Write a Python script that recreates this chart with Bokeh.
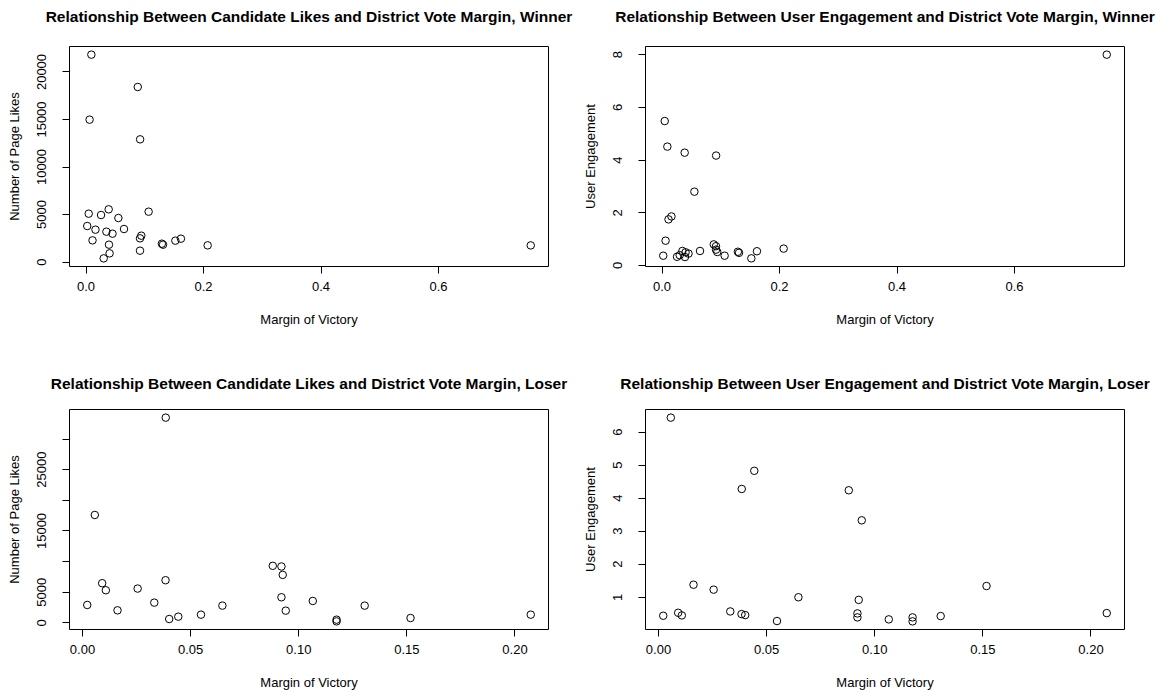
from bokeh.plotting import figure
from bokeh.models import Range1d, FixedTicker, LinearAxis, Title
from bokeh.layouts import column, row
from bokeh.embed import file_html
from bokeh.resources import INLINE

# ---------------- data ----------------
winner_margin = [0.002, 0.0045, 0.006, 0.009, 0.011, 0.016, 0.0255, 0.030, 0.0346, 0.0385,
                 0.039, 0.040, 0.045, 0.055, 0.0646, 0.088, 0.0918, 0.0918, 0.092, 0.094,
                 0.1065, 0.129, 0.131, 0.152, 0.1615, 0.207, 0.757]
winner_likes = [3789, 5088, 14982, 21825, 2281, 3404, 4947, 386, 3193, 5544,
                1825, 912, 2982, 4632, 3474, 18421, 2491, 1193, 12912, 2772,
                5298, 1930, 1825, 2246, 2456, 1754, 1750]
winner_engagement = [0.37, 5.48, 0.94, 4.51, 1.75, 1.86, 0.33, 0.39, 0.55, 4.28,
                     0.32, 0.50, 0.45, 2.80, 0.55, 0.80, 0.73, 0.60, 4.17, 0.51,
                     0.37, 0.52, 0.48, 0.27, 0.54, 0.64, 8.00]

loser_margin = [0.0022, 0.0057, 0.0091, 0.0108, 0.0162, 0.0255, 0.0332, 0.0384, 0.0385, 0.0401,
                0.0443, 0.0548, 0.0647, 0.0880, 0.0920, 0.0920, 0.0926, 0.0940, 0.1065, 0.1175,
                0.1175, 0.1305, 0.1517, 0.2073]
loser_likes = [2926, 17609, 6474, 5328, 2052, 5600, 3308, 6965, 33493, 633,
               1015, 1343, 2817, 9312, 9203, 4181, 7838, 1998, 3581, 524,
               251, 2817, 797, 1343]
loser_engagement = [0.44, 6.44, 0.53, 0.45, 1.38, 1.23, 0.57, 0.49, 4.28, 0.46,
                    4.83, 0.28, 1.00, 4.24, 0.51, 0.39, 0.92, 3.33, 0.33, 0.39,
                    0.27, 0.43, 1.34, 0.52]

x_ticks_top = [0.0, 0.2, 0.4, 0.6]
x_tick_labels_top = ["0.0", "0.2", "0.4", "0.6"]
x_ticks_bottom = [0.0, 0.05, 0.1, 0.15, 0.2]
x_tick_labels_bottom = ["0.00", "0.05", "0.10", "0.15", "0.20"]
y_ticks_likes_w = [0, 5000, 10000, 15000, 20000]
y_tick_labels_likes_w = ["0", "5000", "10000", "15000", "20000"]
y_ticks_eng_w = [0, 2, 4, 6, 8]
y_tick_labels_eng_w = ["0", "2", "4", "6", "8"]
y_ticks_likes_l = [0, 5000, 10000, 15000, 20000, 25000, 30000]
y_tick_labels_likes_l = ["0", "5000", "", "15000", "", "25000", ""]
y_ticks_eng_l = [1, 2, 3, 4, 5, 6]
y_tick_labels_eng_l = ["1", "2", "3", "4", "5", "6"]

titles = [
    "Relationship Between Candidate Likes and District Vote Margin, Winner",
    "Relationship Between User Engagement and District Vote Margin, Winner",
    "Relationship Between Candidate Likes and District Vote Margin, Loser",
    "Relationship Between User Engagement and District Vote Margin, Loser",
]
x_label = "Margin of Victory"
y_labels = ["Number of Page Likes", "User Engagement", "Number of Page Likes", "User Engagement"]

FONT = "Liberation Sans"
TICK_SIZE = "13px"
LABEL_SIZE = "13px"
TITLE_SIZE = "15.5px"


def padded(vals):
    lo, hi = min(vals), max(vals)
    d = (hi - lo) * 0.04
    return Range1d(lo - d, hi + d)


def make(xs, ys, title, ylab, xt, xtl, yt, ytl, left, right, top, bottom, gap):
    p = figure(frame_width=479, frame_height=220, title=None,
               min_border_left=left, min_border_right=right,
               min_border_top=top, min_border_bottom=bottom,
               x_range=padded(xs), y_range=padded(ys),
               output_backend="svg", toolbar_location=None,
               background_fill_color="white", border_fill_color="white")
    # invisible spacer (an unlabeled axis) between the frame and the title
    spacer = LinearAxis(ticker=FixedTicker(ticks=[0], minor_ticks=[]),
                        axis_line_color=None, major_tick_out=gap, major_tick_in=0,
                        major_tick_line_color=None, minor_tick_line_color=None,
                        major_label_standoff=0, axis_label_standoff=0,
                        major_label_overrides={0: ""},
                        major_label_text_font_size="0px")
    p.add_layout(spacer, "above")
    t = Title(text=title, align="center", text_font=FONT, text_font_size=TITLE_SIZE,
              text_font_style="bold", text_color="black", standoff=4)
    p.add_layout(t, "above")

    p.outline_line_color = "black"
    p.outline_line_width = 1
    p.outline_line_alpha = 1
    p.xgrid.visible = False
    p.ygrid.visible = False

    xa = p.below[0]
    ya = p.left[0]
    xa.ticker = FixedTicker(ticks=xt)
    xa.major_label_overrides = dict(zip(xt, xtl))
    ya.ticker = FixedTicker(ticks=yt)
    ya.major_label_overrides = dict(zip(yt, ytl))
    ya.major_label_orientation = "vertical"
    for ax in (xa, ya):
        ax.axis_line_color = None
        ax.major_tick_out = 7
        ax.major_tick_in = 0
        ax.major_tick_line_color = "black"
        ax.minor_tick_line_color = None
        ax.major_label_text_font = FONT
        ax.major_label_text_font_size = TICK_SIZE
        ax.major_label_text_color = "black"
        ax.axis_label_text_font = FONT
        ax.axis_label_text_font_size = LABEL_SIZE
        ax.axis_label_text_font_style = "normal"
        ax.axis_label_text_color = "black"
    xa.axis_label = x_label
    ya.axis_label = ylab
    xa.major_label_standoff = 8
    xa.axis_label_standoff = 18
    ya.major_label_standoff = 16
    ya.axis_label_standoff = 13

    p.scatter(xs, ys, marker="circle", size=7.5, fill_color=None,
              line_color="black", line_width=1)
    return p


p1 = make(winner_margin, winner_likes, titles[0], y_labels[0],
          x_ticks_top, x_tick_labels_top, y_ticks_likes_w, y_tick_labels_likes_w,
          69, 31, 46, 104, 20)
p2 = make(winner_margin, winner_engagement, titles[1], y_labels[1],
          x_ticks_top, x_tick_labels_top, y_ticks_eng_w, y_tick_labels_eng_w,
          66, 38, 46, 104, 20)
p3 = make(loser_margin, loser_likes, titles[2], y_labels[2],
          x_ticks_bottom, x_tick_labels_bottom, y_ticks_likes_l, y_tick_labels_likes_l,
          69, 31, 38, 64, 16)
p4 = make(loser_margin, loser_engagement, titles[3], y_labels[3],
          x_ticks_bottom, x_tick_labels_bottom, y_ticks_eng_l, y_tick_labels_eng_l,
          66, 38, 38, 64, 16)

layout = column(row(p1, p2), row(p3, p4))
open("out.html", "w").write(file_html(layout, INLINE))
